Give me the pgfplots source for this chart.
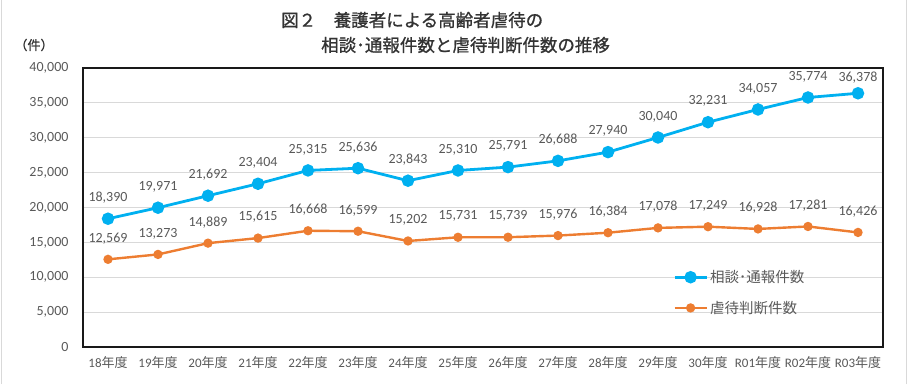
\documentclass[border=0pt]{standalone}
\usepackage{pgfplots}
\pgfplotsset{compat=1.18}
\usepackage{fontspec}
\setmainfont{Carlito}
\newfontfamily\cjk{Noto Sans CJK JP}
\newfontfamily\cjkt[FakeBold=1]{Noto Sans CJK JP}
\definecolor{cblue}{HTML}{00B0F0}
\definecolor{corange}{HTML}{ED7D31}
\definecolor{tgray}{HTML}{595959}
\definecolor{ggray}{HTML}{D9D9D9}
\begin{document}
\begin{tikzpicture}
\useasboundingbox (0pt,0pt) rectangle (908pt,384pt);
\draw[ggray, line width=1pt] (1.5pt,0pt) -- (1.5pt,384pt);
\draw[ggray, line width=1pt] (906pt,0pt) -- (906pt,384pt);
\node[anchor=west, inner sep=0pt, text=black!80, font=\fontsize{17.5}{20}\selectfont\cjkt] at (281pt,364pt) {図２　養護者による高齢者虐待の};
\node[anchor=west, inner sep=0pt, text=black!80, font=\fontsize{17.5}{20}\selectfont\cjkt] at (321pt,339pt) {相談･通報件数と虐待判断件数の推移};
\node[anchor=center, inner sep=0pt, text=black!80, font=\fontsize{13}{15}\selectfont\cjkt] at (34pt,339pt) {（件）};
\begin{axis}[
  at={(83pt,37pt)}, anchor=south west,
  scale only axis, width=800pt, height=279pt,
  xmin=-0.5, xmax=15.5, ymin=0, ymax=40000,
  xtick={0,...,15},
  xticklabels={18{\cjk 年度},19{\cjk 年度},20{\cjk 年度},21{\cjk 年度},22{\cjk 年度},23{\cjk 年度},24{\cjk 年度},25{\cjk 年度},26{\cjk 年度},27{\cjk 年度},28{\cjk 年度},29{\cjk 年度},30{\cjk 年度},R01{\cjk 年度},R02{\cjk 年度},R03{\cjk 年度}},
  ytick={0,5000,...,40000},
  major tick length=0pt,
  ymajorgrids, grid style={ggray, line width=1pt},
  axis line style={black!90, line width=1.3pt},
  /pgf/number format/assume math mode=true,
  /pgf/number format/.cd, fixed, 1000 sep={,}, /pgfplots/.cd,
  scaled y ticks=false,
  yticklabel style={font=\fontsize{14}{16}\selectfont, text=tgray, xshift=-11pt},
  xticklabel style={font=\fontsize{13}{15}\selectfont, text=tgray, yshift=-6pt},
  nodes near coords,
  visualization depends on={rawx \as \rx},
  every node near coord/.append style={font=\fontsize{14}{16}\selectfont, text=tgray, anchor=center, yshift=21pt},
  legend image code/.code={\draw[#1,mark repeat=2,mark phase=2] plot coordinates {(0pt,0pt)(16pt,0pt)(32pt,0pt)};},
  legend style={at={(axis cs:11.30,11300)}, anchor=north west, draw=none, fill=none, font=\fontsize{14.5}{16}\selectfont\cjk, text=tgray, row sep=13pt, inner sep=0pt, nodes={inner xsep=2pt}},
  legend cell align=left,
  clip=false,
]
\addplot[cblue, line width=2.8pt, mark=*, mark size=4.8pt, mark options={solid},
  every node near coord/.append style={yshift={(\rx>14.5 ? -5 : 0)*1pt}}] coordinates {
(0,18390)(1,19971)(2,21692)(3,23404)(4,25315)(5,25636)(6,23843)(7,25310)(8,25791)(9,26688)(10,27940)(11,30040)(12,32231)(13,34057)(14,35774)(15,36378)};
\addlegendentry{相談･通報件数}
\addplot[corange, line width=2.4pt, mark=*, mark size=3.4pt, mark options={solid}] coordinates {
(0,12569)(1,13273)(2,14889)(3,15615)(4,16668)(5,16599)(6,15202)(7,15731)(8,15739)(9,15976)(10,16384)(11,17078)(12,17249)(13,16928)(14,17281)(15,16426)};
\addlegendentry{虐待判断件数}
\end{axis}
\end{tikzpicture}
\end{document}
